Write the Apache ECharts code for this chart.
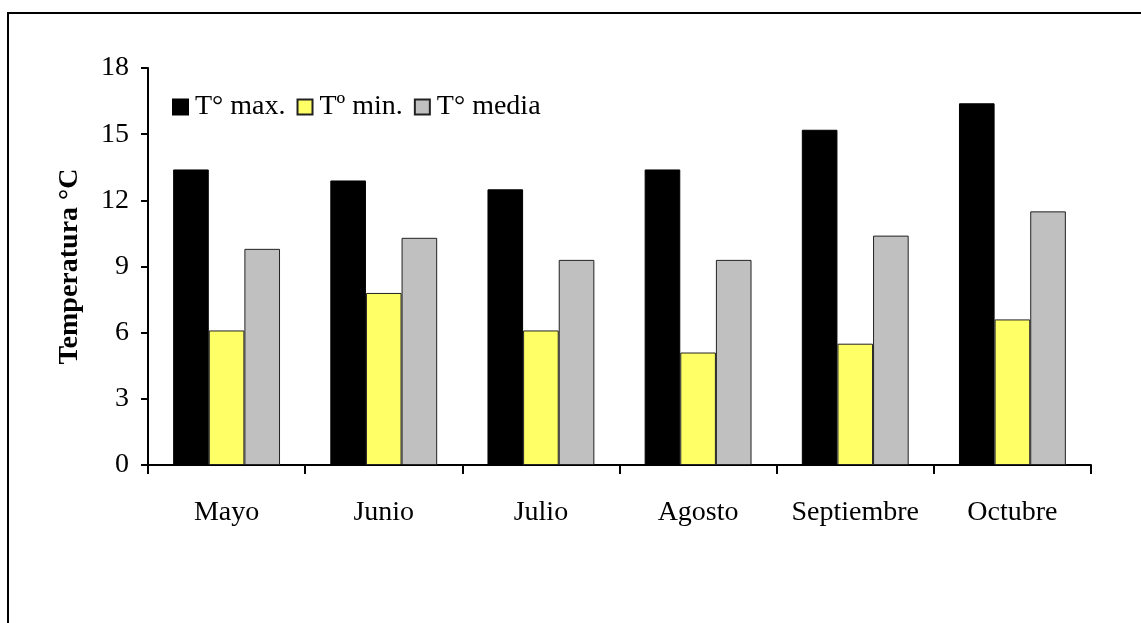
<!DOCTYPE html>
<html>
<head>
<meta charset="utf-8">
<script src="https://cdn.jsdelivr.net/npm/echarts@6/dist/echarts.min.js"></script>
<style>
  html, body { margin: 0; padding: 0; background: #fff; }
  #chart { width: 1141px; height: 623px; }
</style>
</head>
<body>
<div id="chart"></div>
<script>
// Monthly temperatures (°C)
const months = ['Mayo', 'Junio', 'Julio', 'Agosto', 'Septiembre', 'Octubre'];
const tMax   = [13.4, 12.9, 12.5, 13.4, 15.2, 16.4];
const tMin   = [6.1, 7.8, 6.1, 5.1, 5.5, 6.6];
const tMedia = [9.8, 10.3, 9.3, 9.3, 10.4, 11.5];
const seriesNames = ['T° max.', 'Tº min.', 'T° media'];

const serif = '"Liberation Serif", "DejaVu Serif", serif';

const chart = echarts.init(document.getElementById('chart'), null, { renderer: 'canvas' });

function barSeries(name, data, fill, border) {
  return {
    name: name,
    type: 'bar',
    data: data,
    barGap: '0%',
    barCategoryGap: '32%',
    itemStyle: { color: fill, borderColor: border, borderWidth: 1 },
    emphasis: { disabled: true }
  };
}

chart.setOption({
  animation: false,
  backgroundColor: '#fff',
  graphic: [{
    type: 'rect',
    shape: { x: 8, y: 13, width: 1200, height: 700 },
    style: { fill: 'none', stroke: '#000', lineWidth: 2 },
    silent: true
  }],
  grid: { left: 148, top: 68, right: 50, bottom: 158 },
  legend: {
    left: 167,
    top: 88,
    icon: 'rect',
    itemWidth: 15,
    itemHeight: 15,
    itemGap: 11,
    textStyle: { fontFamily: serif, fontSize: 28, color: '#000', padding: [0, 0, 0, 2] },
    data: seriesNames
  },
  xAxis: {
    type: 'category',
    data: months,
    boundaryGap: true,
    axisLine: { lineStyle: { color: '#000', width: 2 } },
    axisTick: { show: true, interval: 0, alignWithLabel: false, length: 9, lineStyle: { color: '#000', width: 2 } },
    axisLabel: { interval: 0, fontFamily: serif, fontSize: 28, color: '#000', margin: 34 },
    splitLine: { show: false }
  },
  yAxis: {
    type: 'value',
    min: 0,
    max: 18,
    interval: 3,
    name: 'Temperatura °C',
    nameLocation: 'middle',
    nameGap: 64,
    nameTextStyle: { fontFamily: serif, fontSize: 28, fontWeight: 'bold', color: '#000' },
    axisLine: { show: true, lineStyle: { color: '#000', width: 2 } },
    axisTick: { show: true, inside: false, length: 7, lineStyle: { color: '#000', width: 2 } },
    axisLabel: { fontFamily: serif, fontSize: 28, color: '#000', margin: 19 },
    splitLine: { show: false }
  },
  series: [
    barSeries(seriesNames[0], tMax, '#000000', '#000000'),
    barSeries(seriesNames[1], tMin, '#ffff66', '#222222'),
    barSeries(seriesNames[2], tMedia, '#c0c0c0', '#222222')
  ]
});
</script>
</body>
</html>
